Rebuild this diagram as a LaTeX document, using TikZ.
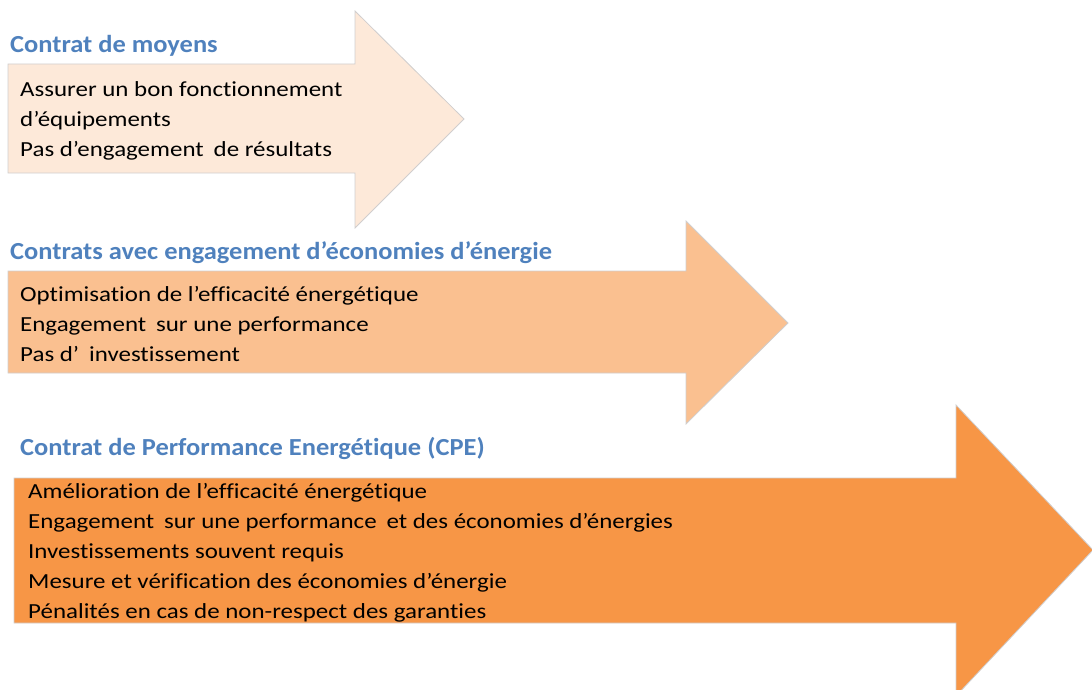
\documentclass[tikz,border=0pt]{standalone}
\usepackage{fontspec}
\setmainfont{Carlito}
\newfontfamily\titlefont{Carlito}[FakeStretch=1.08, Ligatures=NoCommon]
\newfontfamily\bodyfont{Carlito}[FakeStretch=1.16, Ligatures=NoCommon]
\definecolor{peachA}{HTML}{FDE9D9}
\definecolor{peachB}{HTML}{FAC090}
\definecolor{peachC}{HTML}{F79646}
\definecolor{edgegray}{HTML}{D0CECE}
\definecolor{titleblue}{HTML}{4F81BD}
\newcommand{\xgap}{\hspace{0.2em}}
\tikzset{
  arrowshape/.style={draw=edgegray, line width=0.8pt},
  titletext/.style={anchor=base west, inner sep=0pt, text=titleblue, font=\titlefont\fontsize{24.5}{28}\selectfont\bfseries},
  bodytext/.style={anchor=base west, inner sep=0pt, text=black, font=\bodyfont\fontsize{21.5}{25}\selectfont},
}
\begin{document}
\begin{tikzpicture}[x=1pt,y=-1pt]
\useasboundingbox (0,0) rectangle (1092,690);
\clip (0,0) rectangle (1092,690);
% arrow 1
\draw[arrowshape, fill=peachA] (8,64) -- (355,64) -- (355,11) -- (464,119) -- (355,228) -- (355,173) -- (8,173) -- cycle;
% arrow 2
\draw[arrowshape, fill=peachB] (8,271) -- (686,271) -- (686,221) -- (788,323) -- (686,424) -- (686,373) -- (8,373) -- cycle;
% arrow 3
\draw[arrowshape, fill=peachC] (14,478) -- (956,478) -- (956,405) -- (1093,550) -- (956,696) -- (956,623) -- (14,623) -- cycle;

\node[titletext] (t1) at (10,53) {Contrat de moyens};
\node[bodytext] (a1l1) at (20,97) {Assurer un bon fonctionnement};
\node[bodytext] (a1l2) at (20,127) {d’équipements};
\node[bodytext] (a1l3) at (20,157) {Pas d’engagement\xgap{} de résultats};

\node[titletext] (t2) at (10,259) {Contrats avec engagement d’économies d’énergie};
\node[bodytext] (a2l1) at (20,301) {Optimisation de l’efficacité énergétique};
\node[bodytext] (a2l2) at (20,331) {Engagement\xgap{} sur une performance};
\node[bodytext] (a2l3) at (20,361) {Pas d’\xgap{} investissement};

\node[titletext] (t3) at (20,455) {Contrat de Performance Energétique (CPE)};
\node[bodytext] (a3l1) at (28,498) {Amélioration de l’efficacité énergétique};
\node[bodytext] (a3l2) at (28,528) {Engagement\xgap{} sur une performance\xgap{} et des économies d’énergies};
\node[bodytext] (a3l3) at (28,558) {Investissements souvent requis};
\node[bodytext] (a3l4) at (28,588) {Mesure et vérification des économies d’énergie};
\node[bodytext] (a3l5) at (28,618) {Pénalités en cas de non-respect des garanties};
\end{tikzpicture}
\end{document}
